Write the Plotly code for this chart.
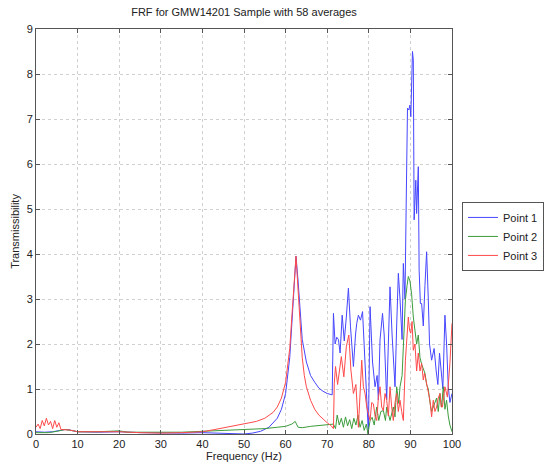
import plotly.graph_objects as go

# ---- data ----
freq_p1 = [0, 2, 4, 6, 7, 8, 10, 15, 20, 25, 30, 35, 40, 45, 50, 52, 54, 56, 58, 59, 60, 61, 61.5, 62, 62.5, 63, 63.5, 64, 65, 66, 67, 68, 69, 70, 71.2,
           71.5, 71.9, 72.3, 72.7, 73.1, 73.6, 74.1, 74.6, 75.1, 75.6, 76.3, 76.8, 77.1, 77.5, 78.0, 78.5, 79.1, 79.5, 79.9,
           80.3, 80.9, 81.5, 82.0, 82.3, 82.7, 83.3, 83.7, 84.3, 84.7, 85.1, 85.6, 86.0, 86.3, 86.7, 87.1, 87.5, 88.0, 88.3, 88.7,
           89.0, 89.3, 89.6, 89.9, 90.1, 90.5, 90.7, 90.9, 91.1, 91.3, 91.5, 91.9, 92.1, 92.4, 92.7, 93.1, 93.5, 93.9, 94.3, 94.6,
           95.1, 95.7, 96.2, 96.6, 97.0, 97.4, 97.8, 98.3, 98.7, 99.1, 99.5, 100]
point1 = [0.05, 0.04, 0.05, 0.08, 0.1, 0.09, 0.05, 0.04, 0.05, 0.03, 0.02, 0.02, 0.03, 0.02, 0.0, 0.02, 0.06, 0.15, 0.35, 0.55, 0.9, 1.7, 2.5, 3.4, 3.95, 3.4, 2.7, 2.1, 1.6, 1.3, 1.15, 1.02, 0.95, 0.9, 0.87,
          2.68, 2.0, 2.15, 2.1, 1.8, 2.64, 2.07, 2.6, 3.24, 2.38, 1.5, 2.2, 2.46, 2.64, 2.53, 2.72, 1.6, 0.8, 0.02,
          2.83, 1.6, 1.05, 1.3, 0.76, 2.09, 2.68, 2.2, 0.76, 1.8, 3.27, 2.2, 1.5, 1.05, 2.4, 3.57, 3.0, 2.1, 3.79, 3.0,
          5.2, 7.24, 7.2, 7.31, 7.05, 8.5, 8.31, 4.76, 5.2, 5.64, 4.9, 5.94, 3.64, 2.9, 2.9, 2.4, 3.3, 4.05, 3.0, 2.0,
          1.64, 1.9, 1.4, 1.1, 1.8, 1.3, 1.0, 2.64, 2.0, 1.05, 0.7, 0.9]

freq_p2 = [0, 3, 5, 7, 9, 10, 15, 20, 22, 30, 35, 40, 45, 50, 55, 58, 60, 61.5, 62.3, 63, 64, 66, 68, 70, 71.5,
           72, 72.4, 72.9, 73.4, 73.9, 74.4, 74.9, 75.4, 75.9, 76.4, 76.9, 77.4, 77.9, 78.4, 78.9, 79.4, 79.8,
           80.3, 80.8, 81.3, 81.9, 82.4, 82.9, 83.5, 84.0, 84.3, 85.1, 85.9, 86.3, 86.7, 87.2, 87.5, 88.0, 88.3, 88.8,
           89.2, 89.5, 89.9, 90.3, 90.7, 91.1, 91.5, 91.9, 92.3, 92.7, 93.1, 93.5, 93.9, 94.3, 94.7, 95.1, 95.5,
           96.3, 96.7, 97.1, 97.5, 97.9, 98.3, 98.7, 99.1, 99.5, 100]
point2 = [0.03, 0.03, 0.06, 0.1, 0.07, 0.05, 0.05, 0.07, 0.04, 0.03, 0.04, 0.06, 0.08, 0.1, 0.12, 0.15, 0.17, 0.22, 0.28, 0.15, 0.14, 0.17, 0.19, 0.21, 0.22,
          0.12, 0.42, 0.2, 0.35, 0.15, 0.38, 0.18, 0.32, 0.12, 0.35, 0.2, 0.42, 0.15, 0.3, 0.08, 0.22, 0.0,
          0.3, 0.37, 0.2, 0.6, 0.3, 0.5, 0.52, 0.3, 0.6, 0.3, 0.6, 0.38, 1.05, 0.68, 1.05, 1.3, 1.94, 2.98,
          3.3, 3.5, 3.4, 3.1, 2.6, 2.25, 2.0, 2.2, 1.7, 1.55, 1.42, 1.35, 1.1, 1.0, 0.7, 0.5, 0.6,
          0.8, 0.5, 0.9, 0.6, 1.05, 0.55, 0.75, 0.4, 0.2, 0.05]

freq_p3 = [0, 0.5, 1, 1.5, 2, 2.5, 3, 3.5, 4, 4.5, 5, 5.5, 6, 7, 8, 10, 15, 20, 25, 30, 35, 40, 43, 46, 50, 53, 55, 57, 58, 59, 60, 61, 61.5, 62, 62.5, 63, 63.5, 64, 64.5, 65, 66, 67, 68, 69, 70, 71, 71.5,
           71.7, 72, 72.5, 72.9, 73.4, 74.0, 74.6, 75.2, 75.7, 76.3, 76.9, 77.5, 78.3, 78.7, 79.1, 79.5,
           80.3, 80.7, 81.1, 81.5, 81.9, 82.3, 82.7, 83.1, 83.5, 83.9, 84.3, 84.7, 85.1, 85.5, 85.9, 86.3, 86.7, 87.1, 87.5, 87.9, 88.3, 88.8,
           89.2, 89.5, 89.8, 90.1, 90.4, 90.7, 91.1, 91.5, 91.9, 92.3, 92.7, 93.1, 93.4, 93.9, 94.3, 94.7, 95.1, 95.5, 95.9,
           96.3, 96.7, 97.1, 97.4, 97.7, 98.3, 98.9, 99.2, 99.5, 100]
point3 = [0.15, 0.22, 0.12, 0.3, 0.18, 0.35, 0.2, 0.28, 0.12, 0.3, 0.15, 0.25, 0.1, 0.1, 0.09, 0.05, 0.05, 0.05, 0.03, 0.02, 0.03, 0.05, 0.1, 0.15, 0.22, 0.28, 0.35, 0.48, 0.6, 0.8, 1.15, 1.9, 2.6, 3.3, 3.95, 3.2, 2.4, 1.7, 1.3, 1.05, 0.75, 0.55, 0.42, 0.33, 0.25, 0.18, 0.12,
          1.13, 1.5, 1.1, 1.42, 1.72, 1.27, 1.94, 2.2, 1.42, 0.9, 1.1, 0.15, 1.64, 1.05, 0.9, 0.6,
          0.3, 0.7, 0.67, 0.4, 0.3, 0.8, 1.05, 0.6, 0.52, 0.9, 0.75, 0.4, 1.05, 0.6, 0.3, 0.7, 0.9, 0.5, 0.75, 0.5, 0.3, 1.64,
          2.2, 2.6, 2.3, 2.24, 2.5, 1.86, 2.0, 1.4, 1.8, 1.4, 1.57, 1.2, 1.35, 1.12, 0.9, 0.75, 0.38, 0.75, 0.5,
          0.6, 0.8, 0.9, 0.6, 0.6, 1.05, 0.82, 1.2, 1.57, 2.46]

series_names = ["Point 1", "Point 2", "Point 3"]
series_colors = ["#4646ff", "#3c9c3c", "#ff4a4a"]
x_ticks = [0, 10, 20, 30, 40, 50, 60, 70, 80, 90, 100]
y_ticks = [0, 1, 2, 3, 4, 5, 6, 7, 8, 9]

FONT = "Liberation Sans, Arial, sans-serif"

fig = go.Figure()
for fx, fy, name, col in zip([freq_p1, freq_p2, freq_p3], [point1, point2, point3], series_names, series_colors):
    fig.add_trace(go.Scatter(x=fx, y=fy, mode="lines", name=name,
                             line=dict(color=col, width=1)))

axis_common = dict(showline=True, linecolor="#555555", linewidth=1, mirror="ticks",
                   ticks="inside", ticklen=4, tickcolor="#555555", automargin=False,
                   showgrid=True, gridcolor="#d0d0d0", griddash="dot", gridwidth=1,
                   zeroline=False, tickfont=dict(family=FONT, size=11, color="#222222"))

fig.update_layout(
    width=548, height=468,
    margin=dict(l=36, r=96, t=29, b=34, autoexpand=False),
    paper_bgcolor="white", plot_bgcolor="white",
    title=dict(text="FRF for GMW14201 Sample with 58 averages", x=(36 + 452) / 2 / 548, xanchor="center",
               xref="container", yref="container", automargin=False,
               y=1 - 12 / 468, yanchor="middle", font=dict(family=FONT, size=11, color="#222222")),
    xaxis=dict(range=[0, 100], tickvals=x_ticks, title=dict(text="Frequency (Hz)", standoff=0,
               font=dict(family=FONT, size=11, color="#222222")), **axis_common),
    yaxis=dict(range=[0, 9], tickvals=y_ticks, title=dict(text="Transmissibility", standoff=4,
               font=dict(family=FONT, size=11, color="#222222")), **axis_common),
    legend=dict(x=1.024, y=0.573, xanchor="left", yanchor="top", bordercolor="#555555", borderwidth=1,
                bgcolor="white", font=dict(family=FONT, size=11, color="#222222"),
                tracegroupgap=0, itemwidth=30),
    showlegend=True,
)

fig.write_html("out.html", config={"displayModeBar": False},
               post_script="document.body.style.margin='0px';document.body.style.overflow='hidden';")
